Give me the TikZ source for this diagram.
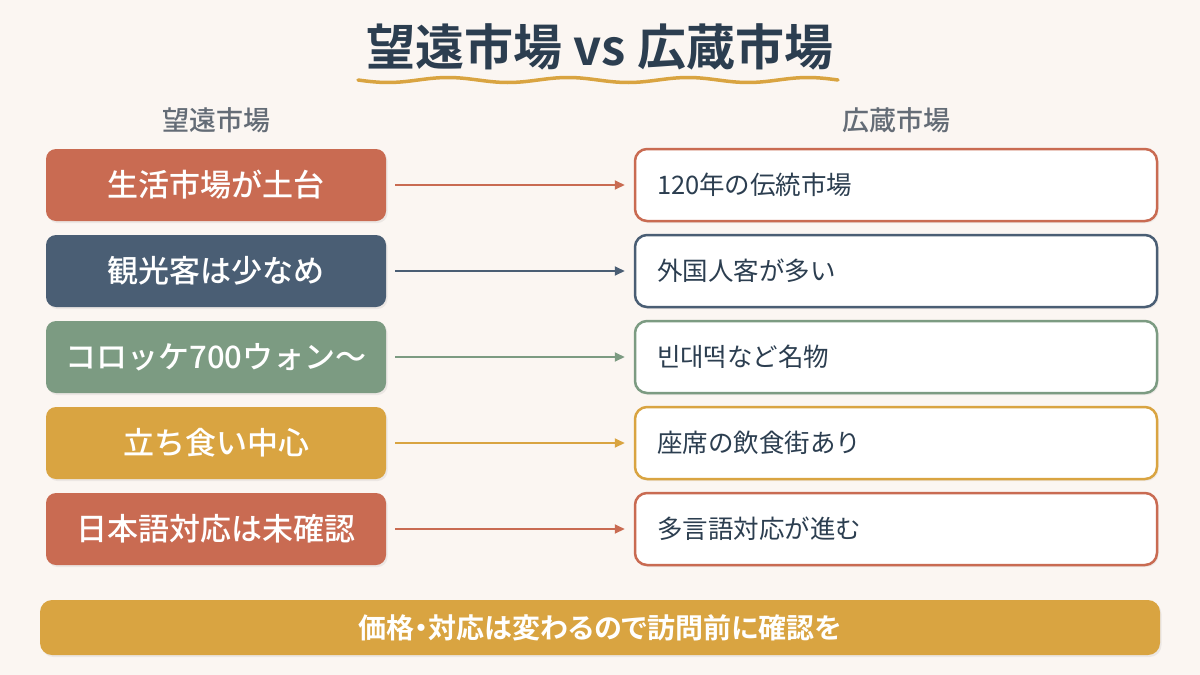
\documentclass[tikz,border=0pt]{standalone}
\usepackage{fontspec}
\setmainfont{Noto Sans CJK JP}
\newfontfamily\jpmed{Noto Sans CJK JP Medium}
\newfontfamily\jpbold{Noto Sans CJK JP Bold}
\usetikzlibrary{arrows.meta,shadows}
\definecolor{bg}{HTML}{FBF6F2}
\definecolor{cred}{HTML}{C96B52}
\definecolor{cnavy}{HTML}{4A5E74}
\definecolor{cgreen}{HTML}{7C9B82}
\definecolor{cgold}{HTML}{D9A441}
\definecolor{ctitle}{HTML}{2C3E50}
\definecolor{csub}{HTML}{646C76}
\tikzset{
  lbox/.style={rounded corners=10pt, minimum width=340pt, minimum height=72pt, inner sep=0pt,
    text=white, font=\fontsize{31}{34}\jpmed,
    drop shadow={shadow xshift=1.5pt, shadow yshift=-2pt, opacity=0.12}},
  rbox/.style={rounded corners=12pt, draw=#1, line width=2.5pt, fill=white, minimum height=72pt,
    inner xsep=22pt, text width=478pt, align=left, text=ctitle, font=\fontsize{25.5}{28}\selectfont,
    drop shadow={shadow xshift=1.5pt, shadow yshift=-2pt, opacity=0.10}},
  conn/.style={draw=#1, line width=2pt, -{Triangle[length=10pt,width=9pt]}},
  subhead/.style={text=csub, font=\fontsize{27}{30}\jpmed},
}
\begin{document}
\begin{tikzpicture}[x=1pt,y=-1pt]
\fill[bg] (0,0) rectangle (1200,675);
\useasboundingbox (0,0) rectangle (1200,675);
\node[text=ctitle, font=\fontsize{49}{54}\jpbold] (title) at (600,47) {望遠市場 vs 広蔵市場};
\draw[cgold, line width=3.5pt, line cap=round] plot[domain=358:838, samples=120, smooth] (\x, {80+2.5*sin((\x-358)*3)});
\node[subhead] (hl) at (216,120) {望遠市場};
\node[subhead] (hr) at (896,120) {広蔵市場};
\foreach \i/\c/\l/\r in {0/cred/生活市場が土台/120年の伝統市場,
                         1/cnavy/観光客は少なめ/外国人客が多い,
                         2/cgreen/{\selectfont コロッケ700ウォン〜}/빈대떡など名物,
                         3/cgold/立ち食い中心/座席の飲食街あり,
                         4/cred/日本語対応は未確認/多言語対応が進む} {
  \node[lbox, fill=\c] (L\i) at (216,{185+86*\i}) {\l};
  \node[rbox=\c] (R\i) at (896,{185+86*\i}) {\r};
  \draw[conn=\c] ([xshift=9pt]L\i.east) -- ([xshift=-9pt]R\i.west);
}
\node[fill=cgold, rounded corners=12pt, minimum width=1120pt, minimum height=55pt, text=white,
  font=\fontsize{28}{30}\jpbold\addfontfeatures{RawFeature=+palt},
  drop shadow={shadow xshift=1.5pt, shadow yshift=-2pt, opacity=0.12}] (bar) at (600,627.5) {価格・対応は変わるので訪問前に確認を};
\end{tikzpicture}
\end{document}
